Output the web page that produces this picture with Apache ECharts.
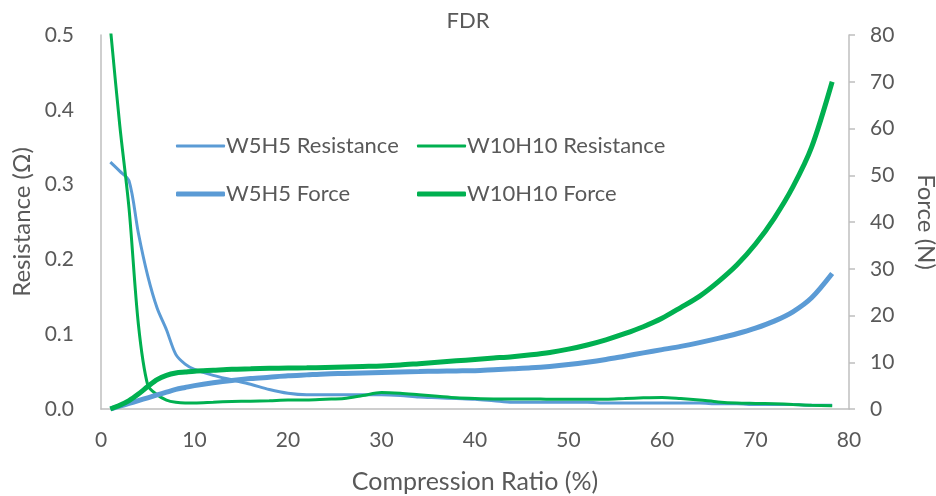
<!DOCTYPE html>
<html>
<head>
<meta charset="utf-8">
<script src="https://cdn.jsdelivr.net/npm/echarts@6/dist/echarts.min.js"></script>
<style>
html, body { margin: 0; padding: 0; background: #fff; }
#chart { width: 936px; height: 496px; }
</style>
</head>
<body>
<div id="chart"></div>
<script>
// compression ratio (%)
var ratio = [1, 2, 3, 4, 5, 6, 7, 8, 9, 10, 12, 14, 16, 18, 20, 22, 24, 26, 28, 30,
	32, 34, 36, 38, 40, 42, 44, 46, 48, 50, 52, 54, 56, 58, 60, 62, 64, 66, 68, 70,
	72, 74, 76, 78.2];

// resistance (ohm), left axis
var w5Res = [0.33, 0.318, 0.305, 0.235, 0.178, 0.135, 0.106, 0.073, 0.06, 0.053, 0.045, 0.039, 0.033, 0.026, 0.021, 0.019, 0.019, 0.019, 0.019, 0.019,
	0.018, 0.016, 0.015, 0.014, 0.013, 0.011, 0.009, 0.009, 0.009, 0.009, 0.009, 0.008, 0.008, 0.008, 0.008, 0.008, 0.008, 0.007, 0.007, 0.006,
	0.006, 0.006, 0.005, 0.005];
var w10Res = [0.51, 0.38, 0.268, 0.113, 0.032, 0.019, 0.012, 0.009, 0.008, 0.008, 0.009, 0.01, 0.0105, 0.011, 0.012, 0.012, 0.013, 0.014, 0.018, 0.022,
	0.021, 0.019, 0.017, 0.015, 0.014, 0.0135, 0.0135, 0.0135, 0.013, 0.013, 0.013, 0.013, 0.014, 0.015, 0.0155, 0.014, 0.012, 0.0095, 0.008, 0.0075,
	0.007, 0.006, 0.005, 0.0045];

// force (N), right axis
var w5Force = [0, 0.6, 1.2, 1.8, 2.4, 3.0, 3.6, 4.2, 4.6, 5.0, 5.6, 6.1, 6.5, 6.8, 7.1, 7.3, 7.5, 7.6, 7.7, 7.8,
	7.9, 8.0, 8.1, 8.15, 8.2, 8.4, 8.6, 8.8, 9.1, 9.5, 10.0, 10.6, 11.3, 12.0, 12.7, 13.4, 14.2, 15.1, 16.1, 17.3,
	18.8, 20.8, 23.8, 29.0];
var w10Force = [0, 0.8, 1.8, 3.2, 4.8, 6.3, 7.2, 7.7, 7.9, 8.1, 8.3, 8.5, 8.6, 8.7, 8.75, 8.8, 8.9, 9.0, 9.1, 9.2,
	9.4, 9.7, 10.0, 10.3, 10.6, 10.9, 11.2, 11.6, 12.1, 12.8, 13.7, 14.8, 16.1, 17.6, 19.4, 21.7, 24.1, 27.2, 30.8, 35.3,
	40.8, 47.5, 56.0, 70.0];

var xTicks = [0, 10, 20, 30, 40, 50, 60, 70, 80];

function pairs(ys) {
	return ratio.map(function(x, i) { return [x, ys[i]]; });
}

var FONT = 'Lato';
var TXT = '#595959';
var BLUE = '#5B9BD5';
var GREEN = '#00B050';

var chart = echarts.init(document.getElementById('chart'));

function legendAt(name, left, top, h) {
	return {
		data: [name], left: left, top: top,
		icon: 'roundRect', itemWidth: 49, itemHeight: h, itemGap: 4,
		textStyle: { fontFamily: FONT, fontSize: 22, color: TXT, padding: [0, 0, 0, -4] }
	};
}

var option = {
	animation: false,
	title: {
		text: 'FDR', left: 'center', top: 5,
		textStyle: { fontFamily: FONT, fontSize: 22, fontWeight: 'normal', color: TXT }
	},
	legend: [
		legendAt('W5H5 Resistance', 171, 130, 3),
		legendAt('W10H10 Resistance', 412, 130, 3),
		legendAt('W5H5 Force', 171, 178, 5),
		legendAt('W10H10 Force', 412, 178, 5)
	],
	grid: { left: 101, right: 87, top: 35, bottom: 87, outerBoundsMode: 'none' },
	xAxis: {
		type: 'value', min: 0, max: 80, interval: 10,
		name: 'Compression Ratio (%)', nameLocation: 'middle', nameGap: 60,
		nameTextStyle: { fontFamily: FONT, fontSize: 25, color: TXT },
		axisLine: { lineStyle: { color: '#BFBFBF', width: 1.5 } },
		axisTick: { show: false },
		splitLine: { show: false },
		axisLabel: {
			fontFamily: FONT, fontSize: 21, color: TXT, margin: 21,
			formatter: function(v) { return xTicks.indexOf(v) >= 0 ? String(v) : ''; }
		}
	},
	yAxis: [{
		type: 'value', min: 0, max: 0.5, interval: 0.1, position: 'left',
		name: 'Resistance (Ω)', nameLocation: 'middle', nameGap: 64,
		nameTextStyle: { fontFamily: FONT, fontSize: 24, color: TXT },
		axisLine: { show: true, lineStyle: { color: '#BFBFBF', width: 1.5 } },
		axisTick: { show: false },
		splitLine: { show: false },
		axisLabel: {
			fontFamily: FONT, fontSize: 21, color: TXT, margin: 27,
			formatter: function(v) { return v.toFixed(1); }
		}
	}, {
		type: 'value', min: 0, max: 80, interval: 10, position: 'right',
		name: 'Force (N)', nameLocation: 'middle', nameGap: 65, nameRotate: -90,
		nameTextStyle: { fontFamily: FONT, fontSize: 24, color: TXT },
		axisLine: { show: true, lineStyle: { color: '#BFBFBF', width: 1.5 } },
		axisTick: { show: true, inside: false, length: 6, lineStyle: { color: '#BFBFBF', width: 1.5 } },
		splitLine: { show: false },
		axisLabel: { fontFamily: FONT, fontSize: 21, color: TXT, margin: 21 }
	}],
	series: [{
		name: 'W5H5 Resistance', type: 'line', yAxisIndex: 0, data: pairs(w5Res),
		smooth: 0.3, symbol: 'none', clip: true,
		lineStyle: { color: BLUE, width: 3 }, itemStyle: { color: BLUE }
	}, {
		name: 'W10H10 Resistance', type: 'line', yAxisIndex: 0, data: pairs(w10Res),
		smooth: 0.3, symbol: 'none', clip: true,
		lineStyle: { color: GREEN, width: 3 }, itemStyle: { color: GREEN }
	}, {
		name: 'W5H5 Force', type: 'line', yAxisIndex: 1, data: pairs(w5Force),
		smooth: 0.3, symbol: 'none', clip: true,
		lineStyle: { color: BLUE, width: 5 }, itemStyle: { color: BLUE }
	}, {
		name: 'W10H10 Force', type: 'line', yAxisIndex: 1, data: pairs(w10Force),
		smooth: 0.3, symbol: 'none', clip: true,
		lineStyle: { color: GREEN, width: 5 }, itemStyle: { color: GREEN }
	}]
};

chart.setOption(option);
</script>
</body>
</html>
